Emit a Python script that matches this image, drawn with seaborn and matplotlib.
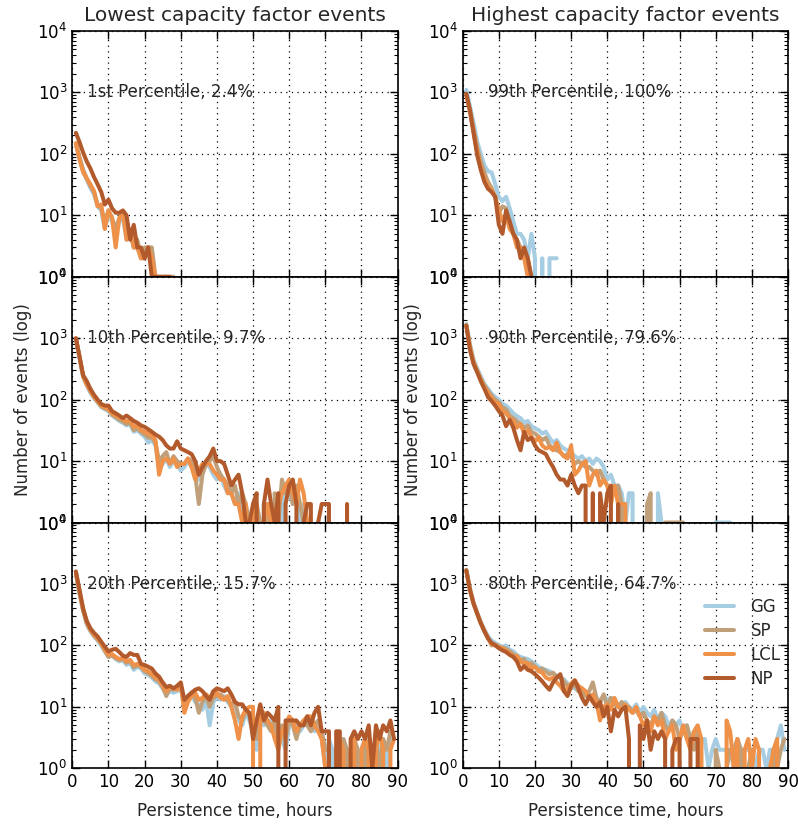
import numpy as np
import pandas as pd
import matplotlib
matplotlib.use("Agg")
import matplotlib.pyplot as plt
import seaborn as sns

# ---------------- data ----------------
series_names = ["GG", "SP", "LCL", "NP"]
series_colors = ["#a6cde2", "#bfa07a", "#ef9149", "#b25a2b"]
column_titles = ["Lowest capacity factor events", "Highest capacity factor events"]
panel_labels = [["1st Percentile, 2.4%", "99th Percentile, 100%"],
                ["10th Percentile, 9.7%", "90th Percentile, 79.6%"],
                ["20th Percentile, 15.7%", "80th Percentile, 64.7%"]]
x_ticks = [0, 10, 20, 30, 40, 50, 60, 70, 80, 90]

# Lowest, 1st percentile
gg_p1 = [140, 85, 52, 38, 28, 22, 14, 12, 6, 11, 8, 5, 8, 9, 4, 5, 3, 3, 2, 2, 3, 2, 1]
sp_p1 = [145, 88, 55, 40, 30, 24, 15, 13, 8, 12, 9, 6, 9, 10, 5, 6, 3, 4, 2, 3, 3, 3, 1, 1, 1, 1, 1, 1]
lcl_p1 = [150, 80, 50, 40, 32, 25, 14, 15, 6, 12, 9, 3, 9, 11, 4, 6, 3, 3, 2, 2, 3, 2, 1]
np_p1 = [220, 155, 105, 75, 58, 42, 32, 24, 15, 18, 13, 11, 11, 12, 10, 4, 7, 3, 3, 2, 3, 1, 1, 1, 1, 1, 1]

# Highest, 99th percentile
gg_p99 = [1100, 600, 320, 160, 100, 65, 52, 50, 32, 20, 17, 20, 13, 8, 5, 5, 4, 2, 5, 2, 0, 2, 0, 2, 2, 2]
sp_p99 = [950, 520, 260, 130, 75, 50, 35, 28, 20, 11, 14, 13, 7, 5, 4, 3, 2, 2, 1]
lcl_p99 = [900, 480, 230, 110, 60, 40, 30, 25, 20, 12, 8, 10, 6, 5, 3, 3, 2, 1, 0]
np_p99 = [950, 520, 220, 95, 55, 35, 27, 24, 20, 7, 5, 12, 8, 5, 4, 2, 3, 2, 1, 0]

# Lowest, 10th percentile
gg_p10 = [950, 480, 230, 170, 130, 105, 90, 75, 70, 65, 55, 50, 45, 42, 38, 40, 30, 32, 28, 25,
          20, 22, 18, 8, 9, 11, 8, 10, 9, 7, 8, 10, 8, 7, 5, 8, 9, 8, 6, 5,
          6, 4, 3, 3, 2, 3, 2, 1, 0, 2, 1, 0, 2, 0, 1, 2, 0, 2, 4, 3,
          2, 3, 1, 2, 0, 1]
sp_p10 = [980, 500, 240, 180, 135, 110, 92, 78, 72, 68, 57, 52, 47, 44, 40, 42, 32, 34, 30, 27,
          24, 24, 20, 10, 12, 14, 9, 12, 10, 9, 9, 11, 10, 6, 2, 6, 9, 10, 12, 8,
          6, 5, 4, 3, 4, 2, 3, 2, 1, 0, 2, 1, 0, 2, 0, 3, 1, 5, 3, 5,
          2, 4, 2, 1, 0]
lcl_p10 = [1000, 490, 240, 175, 140, 112, 95, 80, 75, 70, 60, 55, 52, 48, 44, 46, 36, 38, 32, 30,
           28, 26, 22, 6, 10, 11, 9, 11, 8, 9, 9, 11, 8, 5, 7, 9, 9, 9, 7, 6,
           5, 5, 3, 3, 2, 2, 1, 2, 0, 1, 2, 0, 1, 2, 1, 0, 2, 3, 4, 5,
           3, 2, 5, 3, 1, 0]
np_p10 = [1000, 500, 250, 200, 150, 120, 100, 85, 80, 80, 65, 60, 55, 50, 55, 50, 45, 42, 38, 36,
          33, 30, 27, 25, 22, 18, 16, 16, 21, 16, 15, 14, 13, 10, 6, 8, 10, 12, 16, 10,
          10, 9, 6, 4, 5, 6, 3, 1, 1, 2, 3, 0, 2, 5, 2, 1, 3, 0, 2, 4,
          5, 2, 0, 1, 2, 2, 0, 1, 2, 2, 2, 0, 0, 0, 0, 2, 0]

# Highest, 90th percentile
gg_p90 = [1700, 800, 450, 320, 240, 180, 150, 125, 110, 100, 85, 80, 70, 60, 54, 50, 42, 45, 37, 34,
          32, 28, 30, 24, 20, 22, 18, 16, 15, 14, 12, 11, 12, 10, 11, 9, 11, 10, 8, 5,
          6, 4, 4, 3, 1, 3, 3, 0, 0, 0, 0, 0, 0, 3, 1, 0, 0, 0, 0, 0,
          0, 0, 0, 0, 0, 0, 0, 0, 0, 1, 1, 1, 1, 1, 0]
sp_p90 = [1650, 750, 420, 300, 220, 170, 140, 115, 100, 90, 75, 70, 55, 50, 45, 40, 35, 38, 30, 28,
          25, 22, 24, 18, 16, 15, 14, 12, 13, 12, 9, 10, 9, 8, 8, 7, 6, 7, 5, 4,
          3, 3, 4, 2, 0, 0, 0, 0, 0, 0, 2, 3, 0, 0, 0, 1, 1, 1, 1, 1,
          1, 0]
lcl_p90 = [1600, 720, 400, 290, 210, 160, 130, 105, 90, 85, 65, 60, 50, 45, 35, 40, 28, 32, 25, 21,
           24, 18, 16, 17, 15, 20, 14, 12, 11, 18, 6, 7, 9, 10, 4, 6, 7, 4, 5, 4,
           2, 4, 2, 2, 2, 0]
np_p90 = [1600, 650, 380, 280, 200, 150, 110, 95, 80, 65, 55, 37, 47, 35, 22, 15, 30, 22, 24, 18,
          15, 14, 13, 10, 8, 6, 5, 5, 4, 6, 4, 3, 4, 4, 0, 3, 0, 3, 1, 3,
          4, 0, 2, 0]

# Lowest, 20th percentile
gg_p20 = [1450, 700, 360, 220, 170, 140, 120, 100, 80, 65, 70, 60, 55, 58, 48, 52, 40, 45, 42, 35,
          33, 30, 26, 24, 20, 16, 18, 17, 18, 20, 10, 14, 16, 12, 11, 9, 13, 5, 12, 14,
          13, 15, 12, 10, 11, 6, 5, 8, 6, 4, 2, 7, 5, 6, 6, 4, 5, 3, 2, 5,
          6, 5, 4, 5, 6, 5, 4, 5, 3, 1, 3, 2, 0, 2, 3, 0, 2, 3, 0, 2,
          3, 2, 0, 3, 2, 3, 1, 3]
sp_p20 = [1500, 720, 370, 230, 175, 145, 125, 105, 82, 65, 68, 62, 58, 60, 52, 55, 44, 47, 45, 38,
          35, 32, 28, 26, 21, 15, 20, 19, 20, 22, 11, 15, 17, 14, 8, 12, 15, 10, 14, 15,
          16, 14, 13, 11, 12, 7, 6, 9, 7, 5, 3, 8, 6, 5, 4, 6, 3, 5, 3, 6,
          5, 3, 5, 6, 5, 4, 5, 6, 4, 2, 2, 0, 2, 1, 3, 2, 0, 3, 2, 0,
          3, 2, 1, 3, 1, 3, 2, 4]
lcl_p20 = [1500, 750, 380, 240, 180, 150, 130, 110, 85, 70, 72, 65, 60, 62, 55, 58, 48, 50, 46, 40,
           38, 34, 30, 28, 22, 18, 21, 20, 19, 24, 8, 12, 15, 17, 13, 14, 16, 14, 15, 17,
           14, 13, 15, 10, 6, 3, 7, 9, 10, 10, 0, 9, 8, 6, 5, 3, 2, 4, 5, 7,
           6, 4, 5, 6, 7, 7, 5, 4, 3, 1, 0, 0, 2, 3, 2, 0, 2, 3, 0, 2,
           3, 2, 0, 2, 4, 2, 0, 2, 3]
np_p20 = [1600, 800, 400, 250, 190, 160, 140, 115, 95, 80, 85, 88, 78, 68, 65, 75, 70, 70, 50, 48,
          45, 42, 35, 31, 25, 21, 22, 20, 22, 25, 13, 15, 17, 19, 20, 18, 15, 13, 18, 20,
          19, 18, 20, 16, 12, 11, 11, 9, 8, 3, 6, 11, 6, 8, 7, 6, 10, 0, 6, 6,
          6, 6, 5, 5, 7, 5, 8, 10, 4, 4, 4, 0, 4, 4, 0, 0, 3, 4, 3, 4,
          3, 5, 1, 5, 3, 5, 4, 6, 3]

# Highest, 80th percentile
gg_p80 = [1700, 850, 500, 340, 240, 180, 140, 120, 110, 100, 95, 100, 85, 80, 70, 65, 62, 60, 55, 50,
          45, 42, 40, 38, 35, 32, 30, 28, 24, 22, 20, 18, 19, 17, 16, 14, 13, 12, 15, 13,
          14, 12, 11, 10, 12, 10, 9, 11, 8, 10, 8, 7, 9, 6, 8, 7, 5, 6, 5, 6,
          4, 5, 3, 4, 4, 3, 3, 1, 2, 3, 2, 2, 2, 2, 1, 2, 2, 2, 2, 2,
          1, 2, 2, 1, 2, 2, 3, 5, 2]
sp_p80 = [1700, 820, 490, 335, 235, 175, 135, 100, 105, 95, 92, 88, 80, 72, 65, 58, 60, 48, 52, 45,
          40, 42, 38, 34, 36, 30, 32, 26, 22, 20, 24, 18, 20, 15, 18, 25, 14, 12, 16, 10,
          14, 11, 10, 12, 9, 10, 8, 9, 7, 8, 6, 5, 7, 6, 8, 5, 4, 6, 5, 3,
          4, 5, 3, 2, 4, 3, 0, 1, 0, 2, 1, 0, 1, 2, 2, 3, 2, 0, 1, 2,
          0, 0, 0, 0, 0, 2, 1, 2, 3]
lcl_p80 = [1650, 800, 480, 330, 230, 170, 130, 105, 100, 95, 90, 82, 75, 65, 68, 55, 50, 52, 42, 45,
           38, 36, 30, 28, 30, 25, 22, 18, 20, 24, 27, 22, 20, 18, 14, 16, 12, 6, 10, 11,
           9, 14, 10, 9, 11, 9, 8, 10, 7, 5, 6, 4, 7, 5, 6, 3, 4, 5, 2, 3,
           5, 3, 2, 4, 5, 3, 0, 0, 0, 0, 1, 0, 6, 4, 1, 3, 0, 2, 3, 1,
           3, 2, 0, 0, 1, 2, 3, 0, 0]
np_p80 = [1650, 800, 480, 330, 230, 170, 130, 110, 100, 90, 83, 78, 70, 65, 55, 40, 46, 40, 38, 34,
          30, 26, 22, 19, 25, 30, 34, 18, 15, 22, 27, 20, 14, 11, 15, 12, 10, 12, 7, 10,
          4, 9, 7, 9, 10, 3, 0, 0, 5, 3, 6, 2, 4, 3, 4, 3, 0, 2, 3, 3,
          0, 0, 3, 3, 3, 0]

panels = [[(gg_p1, sp_p1, lcl_p1, np_p1), (gg_p99, sp_p99, lcl_p99, np_p99)],
          [(gg_p10, sp_p10, lcl_p10, np_p10), (gg_p90, sp_p90, lcl_p90, np_p90)],
          [(gg_p20, sp_p20, lcl_p20, np_p20), (gg_p80, sp_p80, lcl_p80, np_p80)]]

# ---------------- style ----------------
sns.set_style("ticks")
plt.rcParams.update({
    "font.family": ["DejaVu Sans"],
    "font.size": 12,
    "axes.linewidth": 1.2,
    "axes.edgecolor": "black",
    "xtick.direction": "in",
    "ytick.direction": "in",
    "xtick.color": "black",
    "ytick.color": "black",
})

fig, axes = plt.subplots(3, 2, figsize=(7.98, 8.24), dpi=100)
fig.subplots_adjust(left=0.0906, right=0.9875, top=0.9624, bottom=0.0676,
                    hspace=0.0, wspace=0.2)

for r in range(3):
    for c in range(2):
        ax = axes[r, c]
        frames = []
        for name, vals in zip(series_names, panels[r][c]):
            frames.append(pd.DataFrame({"hours": np.arange(1, len(vals) + 1),
                                        "events": vals, "series": name}))
        df = pd.concat(frames, ignore_index=True)
        is_leg = (r == 2 and c == 1)
        sns.lineplot(data=df, x="hours", y="events", hue="series",
                     hue_order=series_names, palette=series_colors,
                     linewidth=2.9, estimator=None, ax=ax, legend=is_leg)
        ax.set_yscale("log")
        ax.set_xlim(0, 90)
        ax.set_ylim(1, 1e4)
        ax.set_xticks(x_ticks)
        ax.grid(True, which="major", color="black", linestyle=(0, (1, 3.5)), linewidth=0.9)
        ax.tick_params(which="major", direction="in", length=6, width=1,
                       top=True, right=True, labelsize=12)
        ax.tick_params(which="minor", direction="in", length=3, width=0.8,
                       top=True, right=True)
        ax.tick_params(axis="x", which="minor", bottom=False, top=False)
        ax.set_xlabel("")
        ax.set_ylabel("")
        if r < 2:
            ax.tick_params(axis="x", labelbottom=False)
        else:
            ax.set_xlabel("Persistence time, hours", fontsize=12, labelpad=8)
        if r == 1:
            ax.set_ylabel("Number of events (log)", fontsize=12)
        if r == 0:
            ax.set_title(column_titles[c], fontsize=14.5, pad=7)
        ax.text(4 if c == 0 else 7, 1000, panel_labels[r][c], ha="left", va="center",
                fontsize=12)
        for sp in ax.spines.values():
            sp.set_linewidth(1.2)
        if is_leg:
            h, l = ax.get_legend_handles_labels()
            ax.legend(h, l, frameon=False, loc="center left",
                      bbox_to_anchor=(0.70, 0.51), handlelength=1.7,
                      handletextpad=1.0, labelspacing=0.35, fontsize=12)

fig.savefig("out.png", dpi=100)
